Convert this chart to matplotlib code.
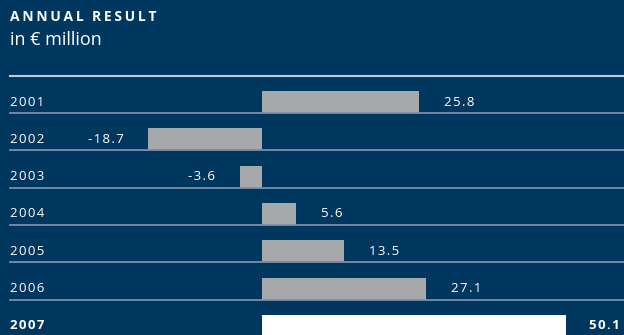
import matplotlib

matplotlib.use("Agg")
import matplotlib.pyplot as plt
import matplotlib.transforms as mtransforms


years = ["2001", "2002", "2003", "2004", "2005", "2006", "2007"]
values = [25.8, -18.7, -3.6, 5.6, 13.5, 27.1, 50.1]
labels = ["25.8", "-18.7", "-3.6", "5.6", "13.5", "27.1", "50.1"]

navy = "#00375f"
grey = "#a7a8ab"
line_col = "#7d8ea6"

plt.rcParams["font.family"] = ["Open Sans", "DejaVu Sans"]


def spaced(s, sep="\u200a"):
    # fake letter spacing
    return sep.join(s)


W, H = 624, 335
fig = plt.figure(figsize=(W / 100, H / 100), dpi=100, facecolor=navy)
ax = fig.add_axes([0, 0, 1, 1])
ax.set_facecolor(navy)
for s in ax.spines.values():
    s.set_visible(False)
ax.set_xticks([])
ax.set_yticks([])

# pixel layout: zero at x=262, ~6.07 px per million, rows every 37.3 px
px_per_unit = 6.07
zero_px = 262
row_px = 37.3
first_center = 102
ax.set_xlim(-zero_px / px_per_unit, (W - zero_px) / px_per_unit)
ax.set_ylim((H - first_center) / row_px, -first_center / row_px)

bar_h = 22 / row_px
n = len(years)
rows = list(range(n))
colors = [grey] * (n - 1) + ["white"]
ax.barh(rows, values, height=bar_h, color=colors, zorder=2)

# separator lines
ax.axhline(-0.697, xmin=10 / W, xmax=1, color="#c5ccd6", lw=1.5, zorder=3)
for i in rows[:-1]:
    ax.axhline(i + bar_h / 2, xmin=10 / W, xmax=1, color=line_col, lw=1.3, zorder=3)

# year labels
ytrans = mtransforms.blended_transform_factory(ax.transAxes, ax.transData)
for i, y in enumerate(years):
    bold = i == n - 1
    ax.text(10 / W, i, spaced(y), transform=ytrans, color="white", fontsize=9.5,
            fontweight="bold" if bold else "normal", va="center", ha="left")

# value labels
for i, (v, lab) in enumerate(zip(values, labels)):
    if i == n - 1:
        ax.text(1 - 4 / W, i, spaced(lab), transform=ytrans, color="white", fontsize=9.5,
                fontweight="bold", va="center", ha="right")
    elif v >= 0:
        ax.annotate(spaced(lab), (v, i), xytext=(25, 0), textcoords="offset pixels",
                    color="white", fontsize=9.5, va="center", ha="left")
    else:
        ax.annotate(spaced(lab), (v, i), xytext=(-25, 0), textcoords="offset pixels",
                    color="white", fontsize=9.5, va="center", ha="right")

title = "\u2009\u2009\u2009".join(spaced(w, "\u2009") for w in ["ANNUAL", "RESULT"])
fig.text(10 / W, 1 - 17 / H, title, color="white", fontsize=10, fontweight="bold",
         va="center", ha="left")
fig.text(10 / W, 1 - 40 / H, "in € million", color="white", fontsize=13,
         va="center", ha="left")

fig.savefig("out.png", dpi=100, facecolor=navy)
